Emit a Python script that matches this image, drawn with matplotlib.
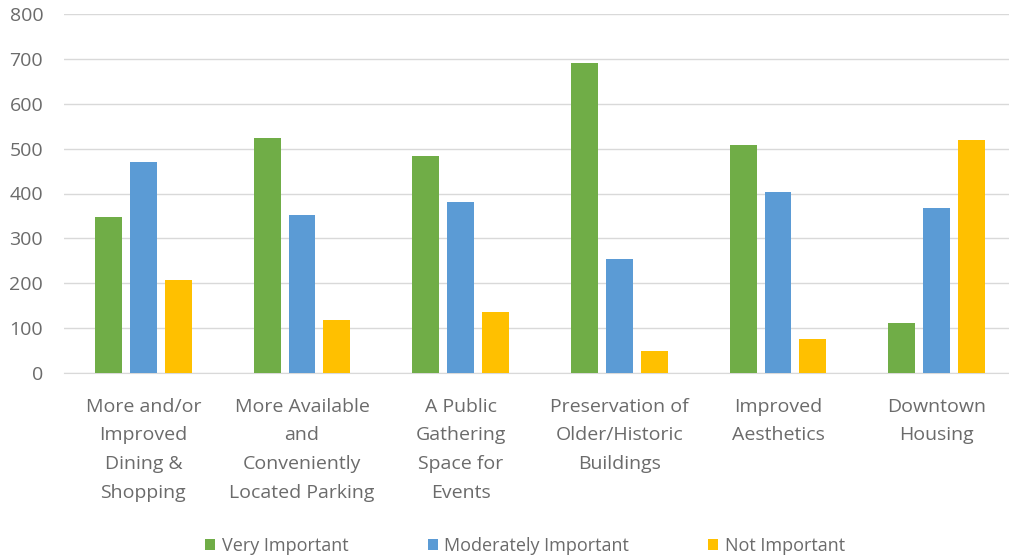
import matplotlib.pyplot as plt
import numpy as np

plt.rcParams['font.family'] = ['Open Sans', 'DejaVu Sans']

categories = ["More and/or\nImproved\nDining &\nShopping",
              "More Available\nand\nConveniently\nLocated Parking",
              "A Public\nGathering\nSpace for\nEvents",
              "Preservation of\nOlder/Historic\nBuildings",
              "Improved\nAesthetics",
              "Downtown\nHousing"]
very_important = [348, 523, 484, 690, 508, 112]
moderately_important = [470, 352, 381, 253, 404, 368]
not_important = [207, 118, 135, 49, 75, 519]
series_names = ["Very Important", "Moderately Important", "Not Important"]
colors = ["#70AD47", "#5B9BD5", "#FFC000"]

fig = plt.figure(figsize=(10.09, 5.56), dpi=100)
ax = fig.add_axes([64 / 1009, 1 - 373 / 556, 952 / 1009, 359 / 556])

x = np.arange(len(categories))
w = 0.17
step = 0.22
for k, (vals, name, c) in enumerate(zip([very_important, moderately_important, not_important],
                                         series_names, colors)):
    ax.bar(x + (k - 1) * step, vals, width=w, color=c, label=name, zorder=3)

ax.set_xlim(-0.5, len(categories) - 0.5)
ax.set_ylim(0, 800)
ax.set_yticks(range(0, 801, 100))
ax.yaxis.grid(True, color="#D9D9D9", linewidth=1, zorder=0)
for s in ["top", "right", "left"]:
    ax.spines[s].set_visible(False)
ax.spines["bottom"].set_color("#D9D9D9")
ax.tick_params(axis="both", length=0, colors="#6b6b6b", labelsize=14)
ax.tick_params(axis="y", pad=15)
ax.tick_params(axis="x", pad=18)
ax.set_xticks(x)
ax.set_xticklabels(categories, linespacing=1.75)

fig.legend(loc="center", bbox_to_anchor=(525 / 1009, 1 - 546 / 556), ncol=3,
           frameon=False, fontsize=13, handlelength=0.55, handleheight=0.55,
           handletextpad=0.35, columnspacing=4.4, labelcolor="#6b6b6b")

fig.savefig("out.png", dpi=100)
